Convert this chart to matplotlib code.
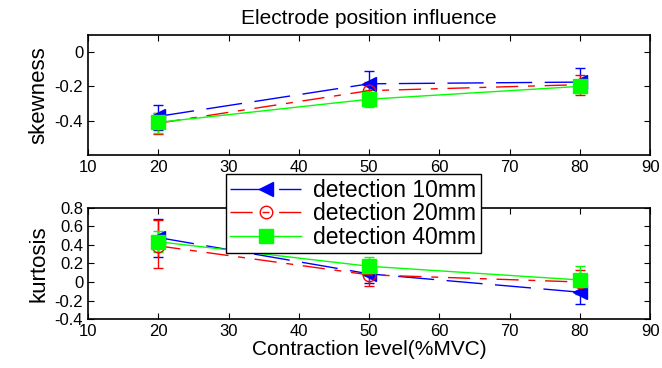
import numpy as np
import matplotlib.pyplot as plt

plt.rcParams['font.family'] = ['Liberation Sans', 'DejaVu Sans']

# 収縮レベル (%MVC)
levels = [20, 50, 80]
labels = ['detection 10mm', 'detection 20mm', 'detection 40mm']

# skewness の平均値と誤差範囲（下側, 上側）
skew_10 = [-0.375, -0.185, -0.175]
skew_10_lo = [0.08, 0.06, 0.06]
skew_10_hi = [0.065, 0.075, 0.085]
skew_20 = [-0.415, -0.225, -0.19]
skew_20_lo = [0.065, 0.06, 0.06]
skew_20_hi = [0.06, 0.05, 0.055]
skew_40 = [-0.41, -0.275, -0.2]
skew_40_lo = [0.06, 0.045, 0.04]
skew_40_hi = [0.055, 0.055, 0.04]

# kurtosis の平均値と誤差範囲
kurt_10 = [0.48, 0.088, -0.11]
kurt_10_lo = [0.21, 0.1, 0.125]
kurt_10_hi = [0.195, 0.09, 0.11]
kurt_20 = [0.39, 0.077, 0.0]
kurt_20_lo = [0.24, 0.12, 0.13]
kurt_20_hi = [0.275, 0.12, 0.13]
kurt_40 = [0.435, 0.17, 0.022]
kurt_40_lo = [0.115, 0.1, 0.15]
kurt_40_hi = [0.115, 0.1, 0.15]

styles = [
    dict(color=(0, 0, 1), marker='<', mfc=(0, 0, 1), ms=10, dashes=(26, 9)),
    dict(color=(1, 0, 0), marker='o', mfc='none', ms=9, dashes=(16, 7, 5, 7)),
    dict(color=(0, 1, 0), marker='s', mfc=(0, 1, 0), ms=10, dashes=None),
]


def draw(ax, series):
    handles = []
    for (y, lo, hi), st, lab in zip(series, styles, labels):
        cont = ax.errorbar(levels, y, yerr=[lo, hi], color=st['color'], marker=st['marker'],
                           mfc=st['mfc'], mec=st['color'], ms=st['ms'], lw=1,
                           elinewidth=1, capsize=3.5, capthick=1, label=lab)
        if st['dashes'] is not None:
            cont[0].set_dashes(st['dashes'])
        handles.append(cont[0])
    ax.set_xlim(10, 90)
    ax.set_xticks(range(10, 91, 10))
    ax.tick_params(direction='in', top=True, right=True, labelsize=12, length=4)
    for s in ax.spines.values():
        s.set_linewidth(1.2)
    return handles


fig = plt.figure(figsize=(6.62, 3.68), dpi=100)
ax1 = fig.add_axes([0.133, 0.579, 0.849, 0.326])
ax2 = fig.add_axes([0.133, 0.133, 0.849, 0.302])

draw(ax1, [(skew_10, skew_10_lo, skew_10_hi), (skew_20, skew_20_lo, skew_20_hi),
           (skew_40, skew_40_lo, skew_40_hi)])
ax1.set_ylim(-0.6, 0.1)
ax1.set_yticks([-0.4, -0.2, 0])
ax1.set_yticklabels(['-0.4', '-0.2', '0'])
ax1.set_ylabel('skewness', fontsize=16)
ax1.set_title('Electrode position influence', fontsize=15, pad=8)

h = draw(ax2, [(kurt_10, kurt_10_lo, kurt_10_hi), (kurt_20, kurt_20_lo, kurt_20_hi),
               (kurt_40, kurt_40_lo, kurt_40_hi)])
ax2.set_ylim(-0.4, 0.8)
ax2.set_yticks(np.arange(-0.4, 0.81, 0.2))
ax2.set_yticklabels(['-0.4', '-0.2', '0', '0.2', '0.4', '0.6', '0.8'])
ax2.set_ylabel('kurtosis', fontsize=16)
ax2.set_xlabel('Contraction level(%MVC)', fontsize=15, labelpad=1)
fig.align_ylabels([ax1, ax2])

leg = fig.legend(handles=h, labels=labels, loc='upper left', bbox_to_anchor=(0.341, 0.527),
                 borderaxespad=0, fontsize=16.5, fancybox=False, edgecolor='black',
                 framealpha=1, handlelength=3.1, borderpad=0.2, labelspacing=0.02,
                 handletextpad=0.5)
leg.get_frame().set_linewidth(1)

fig.savefig('out.png', dpi=100)
